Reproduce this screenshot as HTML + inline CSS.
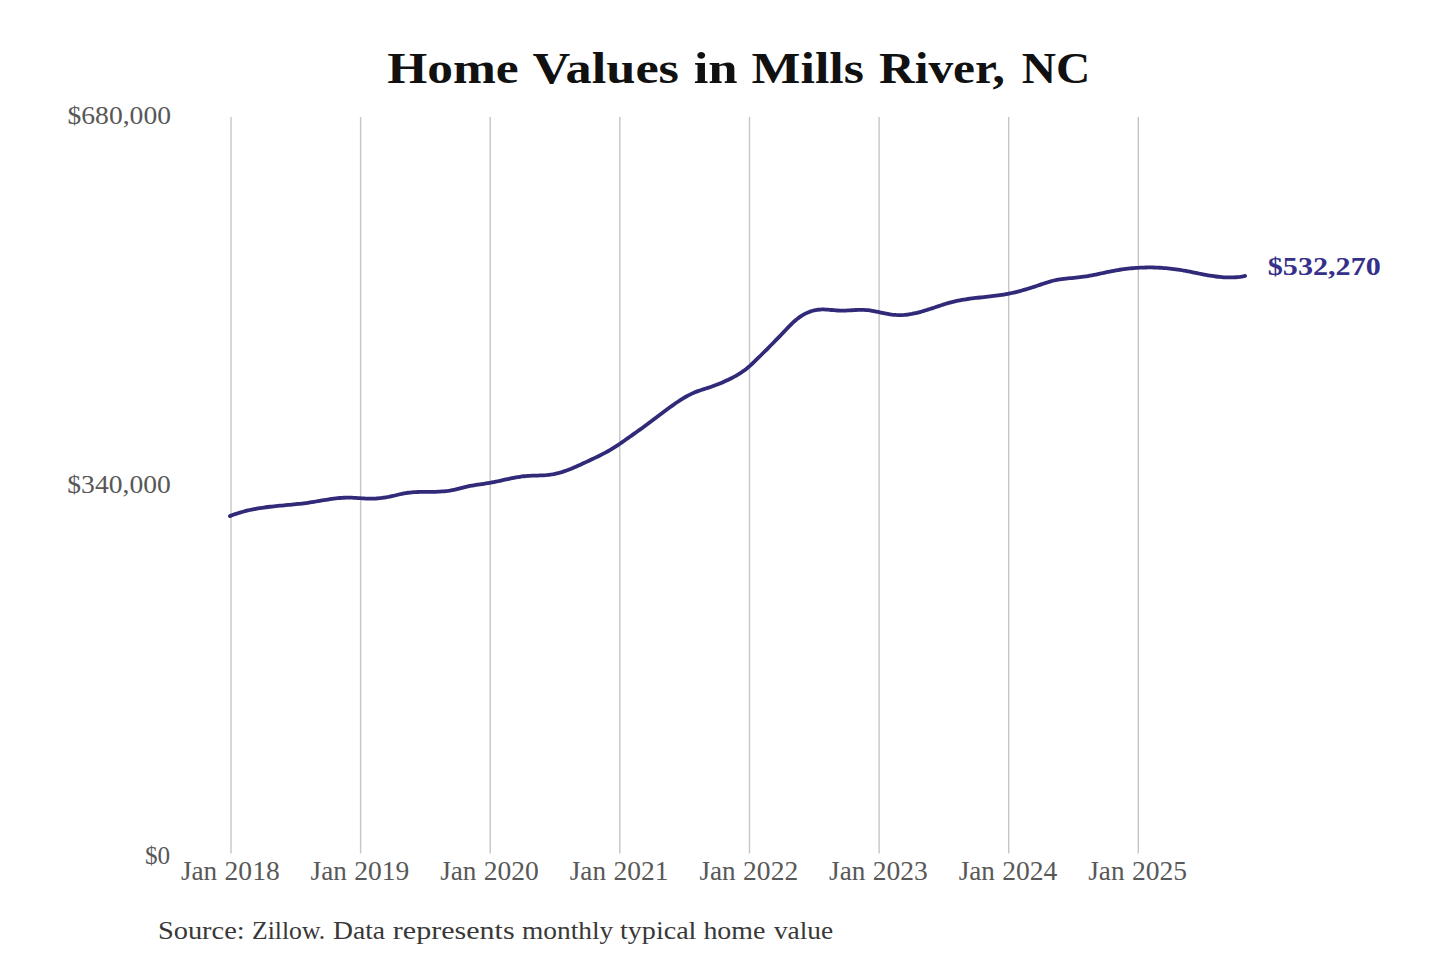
<!DOCTYPE html>
<html><head><meta charset="utf-8">
<style>
html,body{margin:0;padding:0;background:#fff;}
svg{display:block;}
</style></head><body>
<svg width="1440" height="960" viewBox="0 0 1440 960">
<rect width="1440" height="960" fill="#ffffff"/>
<g stroke="#c6c6c6" stroke-width="1.4" fill="none">
<line x1="231.0" y1="117" x2="231.0" y2="853.5" />
<line x1="360.6" y1="117" x2="360.6" y2="853.5" />
<line x1="490.2" y1="117" x2="490.2" y2="853.5" />
<line x1="619.8" y1="117" x2="619.8" y2="853.5" />
<line x1="749.5" y1="117" x2="749.5" y2="853.5" />
<line x1="879.1" y1="117" x2="879.1" y2="853.5" />
<line x1="1008.7" y1="117" x2="1008.7" y2="853.5" />
<line x1="1138.3" y1="117" x2="1138.3" y2="853.5" />
</g>
<text x="387.3" y="82.8" font-family="&quot;Liberation Serif&quot;, serif" font-size="43.7" font-weight="bold" fill="#111" text-anchor="start" textLength="131.4" lengthAdjust="spacingAndGlyphs">Home</text>
<text x="532.6" y="82.8" font-family="&quot;Liberation Serif&quot;, serif" font-size="43.7" font-weight="bold" fill="#111" text-anchor="start" textLength="146.4" lengthAdjust="spacingAndGlyphs">Values</text>
<text x="693.7" y="82.8" font-family="&quot;Liberation Serif&quot;, serif" font-size="43.7" font-weight="bold" fill="#111" text-anchor="start" textLength="43.99" lengthAdjust="spacingAndGlyphs">in</text>
<text x="751.6" y="82.8" font-family="&quot;Liberation Serif&quot;, serif" font-size="43.7" font-weight="bold" fill="#111" text-anchor="start" textLength="112.35" lengthAdjust="spacingAndGlyphs">Mills</text>
<text x="879.0" y="82.8" font-family="&quot;Liberation Serif&quot;, serif" font-size="43.7" font-weight="bold" fill="#111" text-anchor="start" textLength="125.77" lengthAdjust="spacingAndGlyphs">River,</text>
<text x="1021.8" y="82.8" font-family="&quot;Liberation Serif&quot;, serif" font-size="43.7" font-weight="bold" fill="#111" text-anchor="start" textLength="68.51" lengthAdjust="spacingAndGlyphs">NC</text>
<text x="67.5" y="124.4" font-family="&quot;Liberation Serif&quot;, serif" font-size="25.5" font-weight="normal" fill="#585858" text-anchor="start" textLength="103.5" lengthAdjust="spacingAndGlyphs">$680,000</text>
<text x="67.3" y="492.6" font-family="&quot;Liberation Serif&quot;, serif" font-size="25.5" font-weight="normal" fill="#585858" text-anchor="start" textLength="103.5" lengthAdjust="spacingAndGlyphs">$340,000</text>
<text x="144.9" y="863.9" font-family="&quot;Liberation Serif&quot;, serif" font-size="25.5" font-weight="normal" fill="#585858" text-anchor="start" textLength="25.2" lengthAdjust="spacingAndGlyphs">$0</text>
<text x="181.0" y="879.6" font-family="&quot;Liberation Serif&quot;, serif" font-size="26.5" font-weight="normal" fill="#585858" text-anchor="start" textLength="36.2" lengthAdjust="spacingAndGlyphs">Jan</text><text x="224.6" y="879.6" font-family="&quot;Liberation Serif&quot;, serif" font-size="26.5" font-weight="normal" fill="#585858" text-anchor="start" textLength="55.1" lengthAdjust="spacingAndGlyphs">2018</text>
<text x="310.6" y="879.6" font-family="&quot;Liberation Serif&quot;, serif" font-size="26.5" font-weight="normal" fill="#585858" text-anchor="start" textLength="36.2" lengthAdjust="spacingAndGlyphs">Jan</text><text x="354.2" y="879.6" font-family="&quot;Liberation Serif&quot;, serif" font-size="26.5" font-weight="normal" fill="#585858" text-anchor="start" textLength="55.1" lengthAdjust="spacingAndGlyphs">2019</text>
<text x="440.2" y="879.6" font-family="&quot;Liberation Serif&quot;, serif" font-size="26.5" font-weight="normal" fill="#585858" text-anchor="start" textLength="36.2" lengthAdjust="spacingAndGlyphs">Jan</text><text x="483.8" y="879.6" font-family="&quot;Liberation Serif&quot;, serif" font-size="26.5" font-weight="normal" fill="#585858" text-anchor="start" textLength="55.1" lengthAdjust="spacingAndGlyphs">2020</text>
<text x="569.8" y="879.6" font-family="&quot;Liberation Serif&quot;, serif" font-size="26.5" font-weight="normal" fill="#585858" text-anchor="start" textLength="36.2" lengthAdjust="spacingAndGlyphs">Jan</text><text x="613.4" y="879.6" font-family="&quot;Liberation Serif&quot;, serif" font-size="26.5" font-weight="normal" fill="#585858" text-anchor="start" textLength="55.1" lengthAdjust="spacingAndGlyphs">2021</text>
<text x="699.5" y="879.6" font-family="&quot;Liberation Serif&quot;, serif" font-size="26.5" font-weight="normal" fill="#585858" text-anchor="start" textLength="36.2" lengthAdjust="spacingAndGlyphs">Jan</text><text x="743.1" y="879.6" font-family="&quot;Liberation Serif&quot;, serif" font-size="26.5" font-weight="normal" fill="#585858" text-anchor="start" textLength="55.1" lengthAdjust="spacingAndGlyphs">2022</text>
<text x="829.1" y="879.6" font-family="&quot;Liberation Serif&quot;, serif" font-size="26.5" font-weight="normal" fill="#585858" text-anchor="start" textLength="36.2" lengthAdjust="spacingAndGlyphs">Jan</text><text x="872.7" y="879.6" font-family="&quot;Liberation Serif&quot;, serif" font-size="26.5" font-weight="normal" fill="#585858" text-anchor="start" textLength="55.1" lengthAdjust="spacingAndGlyphs">2023</text>
<text x="958.7" y="879.6" font-family="&quot;Liberation Serif&quot;, serif" font-size="26.5" font-weight="normal" fill="#585858" text-anchor="start" textLength="36.2" lengthAdjust="spacingAndGlyphs">Jan</text><text x="1002.3" y="879.6" font-family="&quot;Liberation Serif&quot;, serif" font-size="26.5" font-weight="normal" fill="#585858" text-anchor="start" textLength="55.1" lengthAdjust="spacingAndGlyphs">2024</text>
<text x="1088.3" y="879.6" font-family="&quot;Liberation Serif&quot;, serif" font-size="26.5" font-weight="normal" fill="#585858" text-anchor="start" textLength="36.2" lengthAdjust="spacingAndGlyphs">Jan</text><text x="1131.9" y="879.6" font-family="&quot;Liberation Serif&quot;, serif" font-size="26.5" font-weight="normal" fill="#585858" text-anchor="start" textLength="55.1" lengthAdjust="spacingAndGlyphs">2025</text>
<text x="157.9" y="939" font-family="&quot;Liberation Serif&quot;, serif" font-size="24.5" font-weight="normal" fill="#383838" text-anchor="start" textLength="86.8" lengthAdjust="spacingAndGlyphs">Source:</text>
<text x="252.0" y="939" font-family="&quot;Liberation Serif&quot;, serif" font-size="24.5" font-weight="normal" fill="#383838" text-anchor="start" textLength="73.3" lengthAdjust="spacingAndGlyphs">Zillow.</text>
<text x="333.0" y="939" font-family="&quot;Liberation Serif&quot;, serif" font-size="24.5" font-weight="normal" fill="#383838" text-anchor="start" textLength="52.12" lengthAdjust="spacingAndGlyphs">Data</text>
<text x="392.8" y="939" font-family="&quot;Liberation Serif&quot;, serif" font-size="24.5" font-weight="normal" fill="#383838" text-anchor="start" textLength="121.8" lengthAdjust="spacingAndGlyphs">represents</text>
<text x="521.9" y="939" font-family="&quot;Liberation Serif&quot;, serif" font-size="24.5" font-weight="normal" fill="#383838" text-anchor="start" textLength="91.41" lengthAdjust="spacingAndGlyphs">monthly</text>
<text x="620.0" y="939" font-family="&quot;Liberation Serif&quot;, serif" font-size="24.5" font-weight="normal" fill="#383838" text-anchor="start" textLength="76.42" lengthAdjust="spacingAndGlyphs">typical</text>
<text x="703.4" y="939" font-family="&quot;Liberation Serif&quot;, serif" font-size="24.5" font-weight="normal" fill="#383838" text-anchor="start" textLength="62.0" lengthAdjust="spacingAndGlyphs">home</text>
<text x="773.9" y="939" font-family="&quot;Liberation Serif&quot;, serif" font-size="24.5" font-weight="normal" fill="#383838" text-anchor="start" textLength="59.26" lengthAdjust="spacingAndGlyphs">value</text>
<text x="1267.8" y="274.8" font-family="&quot;Liberation Serif&quot;, serif" font-size="25" font-weight="bold" fill="#35308a" text-anchor="start" textLength="113.0" lengthAdjust="spacingAndGlyphs">$532,270</text>
<path d="M229.9,516.11 L231.9,515.32 L233.9,514.58 L235.9,513.88 L237.9,513.22 L239.9,512.59 L241.9,512.01 L243.9,511.46 L245.9,510.94 L247.9,510.45 L249.9,510.00 L251.9,509.57 L253.9,509.17 L255.9,508.79 L257.9,508.44 L259.9,508.12 L261.9,507.81 L263.9,507.52 L265.9,507.25 L267.9,507.00 L269.9,506.76 L271.9,506.53 L273.9,506.31 L275.9,506.10 L277.9,505.90 L279.9,505.71 L281.9,505.52 L283.9,505.34 L285.9,505.15 L287.9,504.97 L289.9,504.78 L291.9,504.59 L293.9,504.40 L295.9,504.19 L297.9,503.98 L299.9,503.77 L301.9,503.53 L303.9,503.29 L305.9,503.03 L307.9,502.76 L309.9,502.46 L311.9,502.15 L313.9,501.83 L315.9,501.50 L317.9,501.17 L319.9,500.83 L321.9,500.49 L323.9,500.16 L325.9,499.83 L327.9,499.51 L329.9,499.21 L331.9,498.92 L333.9,498.66 L335.9,498.41 L337.9,498.20 L339.9,498.01 L341.9,497.85 L343.9,497.74 L345.9,497.66 L347.9,497.62 L349.9,497.63 L351.9,497.69 L353.9,497.78 L355.9,497.89 L357.9,498.03 L359.9,498.17 L361.9,498.31 L363.9,498.44 L365.9,498.55 L367.9,498.63 L369.9,498.67 L371.9,498.66 L373.9,498.61 L375.9,498.51 L377.9,498.36 L379.9,498.17 L381.9,497.94 L383.9,497.66 L385.9,497.35 L387.9,497.00 L389.9,496.61 L391.9,496.18 L393.9,495.73 L395.9,495.24 L397.9,494.75 L399.9,494.26 L401.9,493.81 L403.9,493.39 L405.9,493.04 L407.9,492.75 L409.9,492.52 L411.9,492.33 L413.9,492.19 L415.9,492.09 L417.9,492.02 L419.9,491.97 L421.9,491.94 L423.9,491.93 L425.9,491.92 L427.9,491.91 L429.9,491.89 L431.9,491.87 L433.9,491.83 L435.9,491.78 L437.9,491.70 L439.9,491.59 L441.9,491.46 L443.9,491.29 L445.9,491.08 L447.9,490.83 L449.9,490.53 L451.9,490.18 L453.9,489.77 L455.9,489.32 L457.9,488.83 L459.9,488.32 L461.9,487.80 L463.9,487.30 L465.9,486.81 L467.9,486.37 L469.9,485.97 L471.9,485.60 L473.9,485.26 L475.9,484.94 L477.9,484.64 L479.9,484.35 L481.9,484.06 L483.9,483.77 L485.9,483.47 L487.9,483.16 L489.9,482.83 L491.9,482.46 L493.9,482.08 L495.9,481.67 L497.9,481.25 L499.9,480.81 L501.9,480.37 L503.9,479.92 L505.9,479.48 L507.9,479.04 L509.9,478.61 L511.9,478.19 L513.9,477.79 L515.9,477.42 L517.9,477.08 L519.9,476.76 L521.9,476.48 L523.9,476.25 L525.9,476.06 L527.9,475.91 L529.9,475.79 L531.9,475.71 L533.9,475.64 L535.9,475.58 L537.9,475.53 L539.9,475.46 L541.9,475.38 L543.9,475.28 L545.9,475.15 L547.9,474.97 L549.9,474.74 L551.9,474.46 L553.9,474.11 L555.9,473.70 L557.9,473.22 L559.9,472.68 L561.9,472.08 L563.9,471.43 L565.9,470.74 L567.9,470.01 L569.9,469.23 L571.9,468.42 L573.9,467.58 L575.9,466.71 L577.9,465.82 L579.9,464.92 L581.9,464.00 L583.9,463.06 L585.9,462.13 L587.9,461.19 L589.9,460.25 L591.9,459.31 L593.9,458.36 L595.9,457.40 L597.9,456.43 L599.9,455.44 L601.9,454.42 L603.9,453.39 L605.9,452.32 L607.9,451.22 L609.9,450.08 L611.9,448.90 L613.9,447.68 L615.9,446.41 L617.9,445.09 L619.9,443.74 L621.9,442.36 L623.9,440.96 L625.9,439.56 L627.9,438.15 L629.9,436.75 L631.9,435.34 L633.9,433.92 L635.9,432.50 L637.9,431.06 L639.9,429.62 L641.9,428.16 L643.9,426.68 L645.9,425.20 L647.9,423.70 L649.9,422.20 L651.9,420.69 L653.9,419.18 L655.9,417.66 L657.9,416.15 L659.9,414.65 L661.9,413.15 L663.9,411.66 L665.9,410.18 L667.9,408.72 L669.9,407.27 L671.9,405.84 L673.9,404.43 L675.9,403.05 L677.9,401.71 L679.9,400.40 L681.9,399.13 L683.9,397.91 L685.9,396.75 L687.9,395.64 L689.9,394.59 L691.9,393.61 L693.9,392.70 L695.9,391.87 L697.9,391.12 L699.9,390.43 L701.9,389.78 L703.9,389.16 L705.9,388.54 L707.9,387.92 L709.9,387.26 L711.9,386.57 L713.9,385.84 L715.9,385.08 L717.9,384.30 L719.9,383.48 L721.9,382.63 L723.9,381.75 L725.9,380.85 L727.9,379.91 L729.9,378.95 L731.9,377.95 L733.9,376.90 L735.9,375.79 L737.9,374.62 L739.9,373.38 L741.9,372.06 L743.9,370.66 L745.9,369.15 L747.9,367.55 L749.9,365.83 L751.9,364.00 L753.9,362.10 L755.9,360.16 L757.9,358.20 L759.9,356.23 L761.9,354.26 L763.9,352.27 L765.9,350.28 L767.9,348.29 L769.9,346.28 L771.9,344.26 L773.9,342.23 L775.9,340.19 L777.9,338.14 L779.9,336.07 L781.9,333.99 L783.9,331.90 L785.9,329.79 L787.9,327.68 L789.9,325.60 L791.9,323.59 L793.9,321.70 L795.9,319.96 L797.9,318.36 L799.9,316.90 L801.9,315.58 L803.9,314.40 L805.9,313.36 L807.9,312.44 L809.9,311.66 L811.9,311.00 L813.9,310.46 L815.9,310.04 L817.9,309.74 L819.9,309.56 L821.9,309.47 L823.9,309.47 L825.9,309.54 L827.9,309.67 L829.9,309.82 L831.9,310.00 L833.9,310.18 L835.9,310.35 L837.9,310.49 L839.9,310.59 L841.9,310.62 L843.9,310.61 L845.9,310.55 L847.9,310.46 L849.9,310.36 L851.9,310.24 L853.9,310.12 L855.9,310.01 L857.9,309.93 L859.9,309.88 L861.9,309.87 L863.9,309.92 L865.9,310.03 L867.9,310.21 L869.9,310.47 L871.9,310.79 L873.9,311.15 L875.9,311.54 L877.9,311.96 L879.9,312.38 L881.9,312.80 L883.9,313.21 L885.9,313.60 L887.9,313.96 L889.9,314.28 L891.9,314.56 L893.9,314.79 L895.9,314.96 L897.9,315.06 L899.9,315.09 L901.9,315.05 L903.9,314.93 L905.9,314.76 L907.9,314.52 L909.9,314.22 L911.9,313.88 L913.9,313.48 L915.9,313.04 L917.9,312.56 L919.9,312.04 L921.9,311.49 L923.9,310.91 L925.9,310.30 L927.9,309.68 L929.9,309.03 L931.9,308.38 L933.9,307.71 L935.9,307.04 L937.9,306.37 L939.9,305.70 L941.9,305.04 L943.9,304.40 L945.9,303.78 L947.9,303.19 L949.9,302.63 L951.9,302.11 L953.9,301.62 L955.9,301.16 L957.9,300.73 L959.9,300.34 L961.9,299.97 L963.9,299.62 L965.9,299.30 L967.9,299.00 L969.9,298.72 L971.9,298.46 L973.9,298.20 L975.9,297.97 L977.9,297.74 L979.9,297.51 L981.9,297.30 L983.9,297.08 L985.9,296.87 L987.9,296.65 L989.9,296.43 L991.9,296.20 L993.9,295.96 L995.9,295.71 L997.9,295.44 L999.9,295.16 L1001.9,294.86 L1003.9,294.54 L1005.9,294.20 L1007.9,293.83 L1009.9,293.43 L1011.9,293.00 L1013.9,292.55 L1015.9,292.07 L1017.9,291.57 L1019.9,291.04 L1021.9,290.50 L1023.9,289.93 L1025.9,289.34 L1027.9,288.74 L1029.9,288.12 L1031.9,287.49 L1033.9,286.85 L1035.9,286.19 L1037.9,285.52 L1039.9,284.85 L1041.9,284.17 L1043.9,283.50 L1045.9,282.84 L1047.9,282.20 L1049.9,281.60 L1051.9,281.03 L1053.9,280.52 L1055.9,280.06 L1057.9,279.66 L1059.9,279.33 L1061.9,279.04 L1063.9,278.80 L1065.9,278.59 L1067.9,278.39 L1069.9,278.21 L1071.9,278.04 L1073.9,277.85 L1075.9,277.65 L1077.9,277.44 L1079.9,277.20 L1081.9,276.95 L1083.9,276.67 L1085.9,276.37 L1087.9,276.05 L1089.9,275.70 L1091.9,275.33 L1093.9,274.94 L1095.9,274.53 L1097.9,274.12 L1099.9,273.69 L1101.9,273.26 L1103.9,272.83 L1105.9,272.41 L1107.9,271.98 L1109.9,271.57 L1111.9,271.17 L1113.9,270.78 L1115.9,270.42 L1117.9,270.07 L1119.9,269.75 L1121.9,269.45 L1123.9,269.17 L1125.9,268.91 L1127.9,268.67 L1129.9,268.45 L1131.9,268.26 L1133.9,268.08 L1135.9,267.93 L1137.9,267.80 L1139.9,267.69 L1141.9,267.60 L1143.9,267.53 L1145.9,267.49 L1147.9,267.46 L1149.9,267.46 L1151.9,267.47 L1153.9,267.51 L1155.9,267.57 L1157.9,267.65 L1159.9,267.75 L1161.9,267.87 L1163.9,268.02 L1165.9,268.18 L1167.9,268.37 L1169.9,268.57 L1171.9,268.80 L1173.9,269.05 L1175.9,269.31 L1177.9,269.60 L1179.9,269.91 L1181.9,270.25 L1183.9,270.60 L1185.9,270.96 L1187.9,271.34 L1189.9,271.73 L1191.9,272.13 L1193.9,272.53 L1195.9,272.94 L1197.9,273.34 L1199.9,273.74 L1201.9,274.14 L1203.9,274.52 L1205.9,274.90 L1207.9,275.26 L1209.9,275.60 L1211.9,275.93 L1213.9,276.23 L1215.9,276.50 L1217.9,276.75 L1219.9,276.96 L1221.9,277.14 L1223.9,277.28 L1225.9,277.39 L1227.9,277.45 L1229.9,277.47 L1231.9,277.44 L1233.9,277.37 L1235.9,277.24 L1237.9,277.07 L1239.9,276.84 L1241.9,276.55 L1243.9,276.21 L1245.1,275.97" fill="none" stroke="#302a78" stroke-width="3.8" stroke-linecap="round" stroke-linejoin="round"/>
</svg>
</body></html>
